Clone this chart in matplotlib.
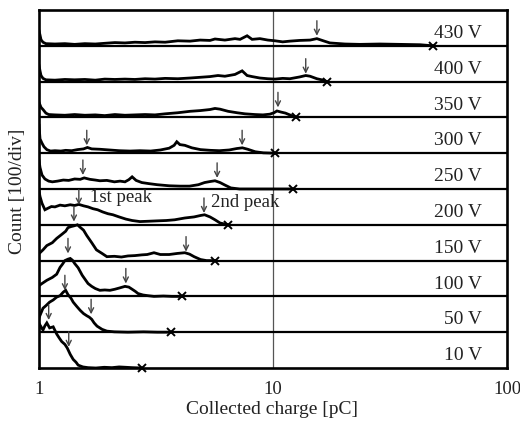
import matplotlib
matplotlib.use("Agg")
import matplotlib.pyplot as plt
import numpy as np

# ---------------- data (charge in pC, counts in units of 100 counts = 1 div) ----------
row_labels = ["10 V", "50 V", "100 V", "150 V", "200 V", "250 V", "300 V", "350 V", "400 V", "430 V"]

q10 = [1.00, 1.01, 1.04, 1.06, 1.08, 1.11, 1.15, 1.19, 1.22, 1.25, 1.29, 1.32, 1.36, 1.40,
       1.44, 1.47, 1.54, 1.62, 1.75, 1.90, 2.05, 2.20, 2.35, 2.50, 2.75]
c10 = [1.10, 1.20, 1.06, 1.18, 1.26, 1.12, 1.15, 0.95, 0.84, 0.74, 0.66, 0.56, 0.38, 0.24,
       0.16, 0.08, 0.03, 0.01, 0.0, 0.02, 0.01, 0.03, 0.02, 0.01, 0.0]

q50 = [1.00, 1.01, 1.04, 1.07, 1.11, 1.15, 1.19, 1.23, 1.27, 1.30, 1.33, 1.37, 1.40, 1.45,
       1.50, 1.55, 1.60, 1.64, 1.68, 1.72, 1.77, 1.86, 1.95, 2.1, 2.4, 2.8, 3.2, 3.66]
c50 = [0.40, 0.47, 0.67, 0.74, 0.84, 0.90, 0.98, 1.02, 1.12, 1.17, 1.05, 0.95, 0.84, 0.72,
       0.61, 0.52, 0.46, 0.42, 0.36, 0.26, 0.17, 0.08, 0.03, 0.01, 0.0, 0.01, 0.0, 0.0]

q100 = [1.00, 1.03, 1.08, 1.14, 1.19, 1.23, 1.26, 1.29, 1.33, 1.36, 1.39, 1.42, 1.47, 1.53,
        1.58, 1.62, 1.68, 1.74, 1.82, 1.91, 2.01, 2.11, 2.22, 2.33, 2.42, 2.50, 2.58, 2.65,
        2.78, 2.92, 3.1, 3.4, 3.7, 4.08]
c100 = [0.30, 0.36, 0.45, 0.53, 0.62, 0.81, 0.90, 1.00, 1.04, 1.06, 1.01, 0.92, 0.80, 0.59,
        0.46, 0.36, 0.28, 0.22, 0.17, 0.18, 0.17, 0.20, 0.24, 0.28, 0.26, 0.20, 0.14, 0.08,
        0.04, 0.02, 0.0, 0.01, 0.0, 0.0]

q150 = [1.00, 1.01, 1.04, 1.08, 1.14, 1.19, 1.25, 1.30, 1.33, 1.37, 1.41, 1.46, 1.50, 1.55,
        1.60, 1.68, 1.76, 1.86, 1.95, 2.1, 2.25, 2.4, 2.57, 2.75, 2.9, 3.1, 3.3, 3.6, 3.9,
        4.2, 4.4, 4.6, 4.9, 5.2, 5.65]
c150 = [0.20, 0.22, 0.30, 0.42, 0.50, 0.62, 0.73, 0.82, 0.92, 0.95, 0.97, 1.00, 0.93, 0.85,
        0.70, 0.50, 0.30, 0.20, 0.11, 0.12, 0.10, 0.13, 0.14, 0.16, 0.17, 0.22, 0.17, 0.17,
        0.20, 0.22, 0.18, 0.11, 0.03, 0.0, 0.0]

q200 = [1.00, 1.01, 1.03, 1.06, 1.09, 1.13, 1.17, 1.23, 1.29, 1.36, 1.42, 1.48, 1.55, 1.62,
        1.70, 1.78, 1.87, 1.97, 2.07, 2.2, 2.35, 2.5, 2.7, 2.95, 3.2, 3.5, 3.8, 4.2, 4.6,
        4.9, 5.1, 5.38, 5.65, 5.94, 6.43]
c200 = [0.95, 0.79, 0.60, 0.42, 0.46, 0.51, 0.50, 0.55, 0.53, 0.56, 0.54, 0.57, 0.53, 0.50,
        0.45, 0.42, 0.36, 0.31, 0.28, 0.22, 0.16, 0.12, 0.09, 0.10, 0.11, 0.12, 0.14, 0.19,
        0.22, 0.26, 0.28, 0.22, 0.14, 0.05, 0.0]

q250 = [1.00, 1.01, 1.03, 1.06, 1.10, 1.14, 1.20, 1.27, 1.34, 1.42, 1.50, 1.56, 1.65, 1.74,
        1.82, 1.95, 2.1, 2.22, 2.33, 2.42, 2.50, 2.60, 2.75, 2.95, 3.2, 3.6, 4.0, 4.4, 4.8,
        5.1, 5.4, 5.65, 5.94, 6.23, 6.6, 7.2, 8.5, 10.0, 12.2]
c250 = [0.80, 0.60, 0.39, 0.28, 0.22, 0.20, 0.22, 0.25, 0.24, 0.28, 0.27, 0.31, 0.27, 0.25,
        0.23, 0.24, 0.20, 0.22, 0.20, 0.26, 0.34, 0.24, 0.18, 0.15, 0.12, 0.09, 0.08, 0.08,
        0.12, 0.18, 0.21, 0.23, 0.18, 0.11, 0.03, 0.0, 0.0, 0.0, 0.0]

q300 = [1.00, 1.01, 1.03, 1.05, 1.08, 1.12, 1.17, 1.24, 1.30, 1.38, 1.46, 1.55, 1.61, 1.68,
        1.82, 2.0, 2.2, 2.45, 2.7, 3.0, 3.3, 3.6, 3.78, 3.88, 4.0, 4.2, 4.5, 4.9, 5.4, 5.9,
        6.5, 7.0, 7.4, 7.8, 8.4, 9.1, 10.2]
c300 = [0.78, 0.40, 0.28, 0.18, 0.10, 0.06, 0.07, 0.06, 0.08, 0.07, 0.10, 0.12, 0.16, 0.12,
        0.11, 0.09, 0.07, 0.06, 0.07, 0.06, 0.09, 0.14, 0.22, 0.32, 0.24, 0.22, 0.15, 0.10,
        0.08, 0.07, 0.09, 0.13, 0.15, 0.11, 0.04, 0.01, 0.0]

q350 = [1.00, 1.01, 1.02, 1.04, 1.07, 1.10, 1.17, 1.29, 1.42, 1.57, 1.74, 1.91, 2.11, 2.33,
        2.57, 2.84, 3.13, 3.46, 3.92, 4.42, 4.88, 5.38, 5.65, 5.94, 6.43, 7.02, 7.59, 8.37,
        9.06, 9.69, 10.1, 10.4, 10.8, 11.3, 12.0, 12.6]
c350 = [0.42, 0.35, 0.28, 0.22, 0.12, 0.08, 0.07, 0.06, 0.08, 0.06, 0.07, 0.05, 0.08, 0.06,
        0.07, 0.08, 0.07, 0.10, 0.13, 0.17, 0.19, 0.22, 0.25, 0.23, 0.17, 0.13, 0.10, 0.08,
        0.07, 0.09, 0.13, 0.18, 0.15, 0.12, 0.05, 0.0]

q400 = [1.00, 1.01, 1.02, 1.04, 1.07, 1.17, 1.29, 1.42, 1.57, 1.74, 1.91, 2.11, 2.33, 2.57,
        2.84, 3.13, 3.46, 3.92, 4.42, 4.88, 5.38, 5.82, 6.23, 6.88, 7.38, 7.75, 8.14, 8.79,
        9.51, 10.2, 11.0, 11.8, 13.0, 13.8, 14.4, 15.4, 16.4, 17.0]
c400 = [0.45, 0.30, 0.17, 0.09, 0.05, 0.04, 0.06, 0.05, 0.06, 0.04, 0.07, 0.06, 0.07, 0.06,
        0.08, 0.07, 0.09, 0.08, 0.10, 0.12, 0.14, 0.17, 0.15, 0.20, 0.30, 0.17, 0.14, 0.10,
        0.08, 0.07, 0.09, 0.08, 0.13, 0.17, 0.15, 0.08, 0.04, 0.0]

q430 = [1.00, 1.01, 1.02, 1.04, 1.07, 1.17, 1.29, 1.42, 1.57, 1.74, 1.91, 2.11, 2.33, 2.57,
        2.84, 3.13, 3.46, 3.92, 4.42, 4.88, 5.38, 5.65, 6.23, 6.88, 7.23, 7.75, 8.14, 8.79,
        9.51, 10.2, 11.0, 11.8, 13.0, 14.4, 15.4, 16.4, 17.5, 20.3, 23.5, 28.6, 34.9, 42.5,
        48.3]
c430 = [0.42, 0.30, 0.17, 0.10, 0.06, 0.05, 0.06, 0.04, 0.06, 0.05, 0.07, 0.09, 0.08, 0.10,
        0.09, 0.11, 0.10, 0.14, 0.13, 0.16, 0.15, 0.19, 0.16, 0.20, 0.18, 0.28, 0.18, 0.20,
        0.16, 0.14, 0.11, 0.13, 0.15, 0.16, 0.20, 0.14, 0.08, 0.05, 0.04, 0.05, 0.04, 0.03,
        0.0]

# end-of-spectrum (x) markers, bottom row to top row
end_charge = [2.75, 3.66, 4.08, 5.65, 6.43, 12.2, 10.2, 12.6, 17.0, 48.3]

# peak arrows: (row index, charge, height of arrow tip in div)
arrow_row = [0, 0, 1, 1, 2, 2, 3, 3, 4, 4, 5, 5, 6, 6, 7, 8, 9]
arrow_q = [1.10, 1.34, 1.29, 1.67, 1.33, 2.35, 1.41, 4.25, 1.48, 5.07, 1.54, 5.77,
           1.60, 7.38, 10.5, 13.8, 15.4]
arrow_tip = [1.34, 0.59, 1.17, 0.50, 1.20, 0.36, 1.09, 0.25, 0.56, 0.33, 0.39, 0.31,
             0.22, 0.22, 0.28, 0.22, 0.28]

series_q = [q10, q50, q100, q150, q200, q250, q300, q350, q400, q430]
series_c = [c10, c50, c100, c150, c200, c250, c300, c350, c400, c430]

# ---------------- figure ----------------
serif = ["Liberation Serif", "DejaVu Serif"]
plt.rcParams["font.family"] = serif

fig = plt.figure(figsize=(5.2, 4.26), dpi=100)
ax = fig.add_axes([39 / 520, 1 - 368 / 426, 468 / 520, 358 / 426])
ax.set_xscale("log")
ax.set_xlim(1, 100)
ax.set_ylim(0, 10)

# vertical reference at 10 pC
ax.axvline(10, color="#555555", lw=0.9, zorder=1)

# row separators
for k in range(1, 10):
    ax.axhline(k, color="black", lw=1.6, zorder=2)

for i, (qs, cs) in enumerate(zip(series_q, series_c)):
    ax.plot(qs, np.asarray(cs) + i, color="black", lw=2.0, solid_joinstyle="miter",
            zorder=3)
    ax.plot([end_charge[i]], [i], marker="x", ms=6, mew=1.4, color="black", zorder=4,
            clip_on=False)
    ax.text(78.2, i + 0.22, row_labels[i], ha="right", va="baseline", fontsize=14,
            color="#222222")

arrow_len = 0.42
for r, q, t in zip(arrow_row, arrow_q, arrow_tip):
    ax.annotate("", xy=(q, r + t), xytext=(q, r + t + arrow_len),
                arrowprops=dict(arrowstyle="->", color="#444444", lw=1.0,
                                mutation_scale=9, shrinkA=0, shrinkB=0), zorder=5)

ax.text(1.65, 4.75, "1st peak", ha="left", va="center", fontsize=13.5, color="#222222")
ax.text(5.45, 4.61, "2nd peak", ha="left", va="center", fontsize=13.5, color="#222222")

for s in ax.spines.values():
    s.set_linewidth(1.9)
    s.set_color("black")

ax.set_yticks([])
ax.set_xticks([1, 10, 100])
ax.set_xticklabels(["1", "10", "100"])
ax.xaxis.set_minor_locator(matplotlib.ticker.NullLocator())
ax.tick_params(axis="x", length=0, pad=9, labelsize=13.5, labelcolor="#222222")

fig.text(18 / 520, 1 - 191 / 426, "Count [100/div]", rotation=90, ha="center",
         va="center", fontsize=14, color="#222222")
fig.text(272 / 520, 1 - 410 / 426, "Collected charge [pC]", ha="center", va="center",
         fontsize=14, color="#222222")

fig.savefig("out.png", dpi=100)
